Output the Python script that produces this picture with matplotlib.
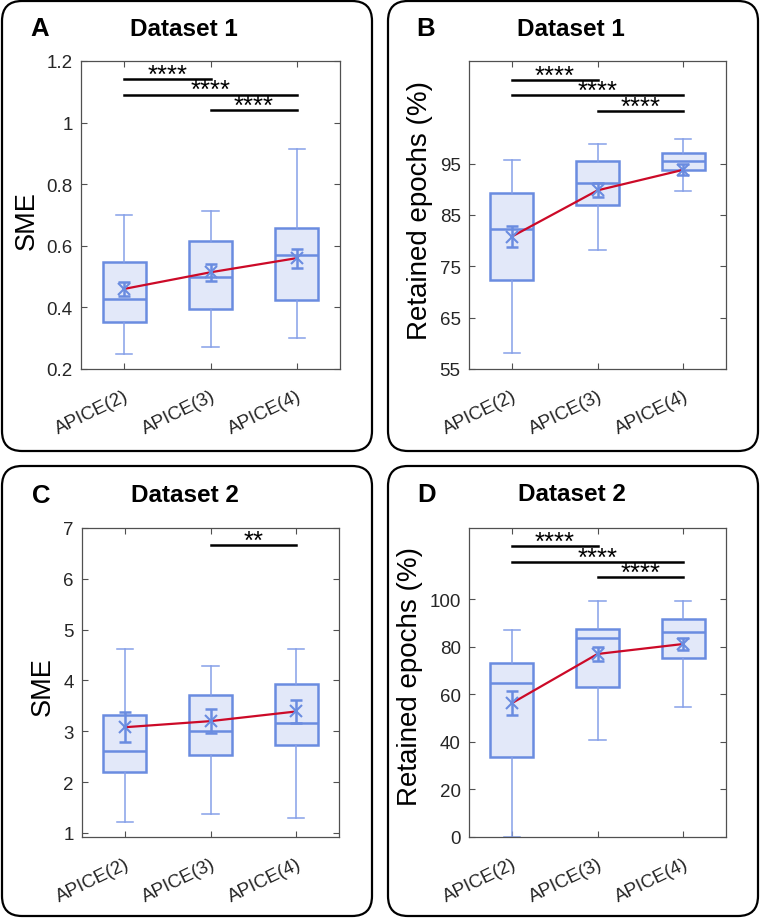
import matplotlib
matplotlib.use('Agg')
import matplotlib.pyplot as plt
from matplotlib.patches import FancyBboxPatch

plt.rcParams['font.family'] = ['Liberation Sans', 'DejaVu Sans']

labels = ['APICE(2)', 'APICE(3)', 'APICE(4)']

# Panel A - Dataset 1, SME
a_whislo = [0.25, 0.27, 0.30]
a_q1     = [0.353, 0.395, 0.425]
a_med    = [0.427, 0.50, 0.571]
a_q3     = [0.548, 0.615, 0.657]
a_whishi = [0.70, 0.712, 0.914]
a_mean   = [0.46, 0.514, 0.56]
a_sem    = [0.024, 0.028, 0.031]
a_sig    = [((1, 2), 1.142, '****'), ((1, 3), 1.091, '****'), ((2, 3), 1.041, '****')]

# Panel B - Dataset 1, retained epochs
b_whislo = [58.2, 78.1, 89.7]
b_q1     = [72.3, 86.9, 93.8]
b_med    = [82.3, 91.3, 95.5]
b_q3     = [89.2, 95.5, 97.1]
b_whishi = [95.7, 98.9, 99.9]
b_mean   = [80.8, 89.8, 93.8]
b_sem    = [2.1, 1.35, 1.05]
b_sig    = [((1, 2), 111.3, '****'), ((1, 3), 108.3, '****'), ((2, 3), 105.3, '****')]

# Panel C - Dataset 2, SME
c_whislo = [1.22, 1.38, 1.29]
c_q1     = [2.20, 2.53, 2.73]
c_med    = [2.62, 3.0, 3.16]
c_q3     = [3.33, 3.72, 3.93]
c_whishi = [4.62, 4.28, 4.61]
c_mean   = [3.08, 3.2, 3.39]
c_sem    = [0.30, 0.23, 0.23]
c_sig    = [((2, 3), 6.66, '**')]

# Panel D - Dataset 2, retained epochs
d_whislo = [0.0, 40.6, 54.5]
d_q1     = [33.8, 62.9, 75.1]
d_med    = [64.6, 83.6, 86.1]
d_q3     = [73.4, 87.4, 91.6]
d_whishi = [87.1, 99.2, 99.2]
d_mean   = [56.3, 77.0, 81.2]
d_sem    = [5.0, 3.0, 2.7]
d_sig    = [((1, 2), 122.3, '****'), ((1, 3), 115.8, '****'), ((2, 3), 109.2, '****')]

EDGE = '#6a8ce0'
WHISK = '#86a0e8'
FILL = '#e2e8f9'
RED = '#cc0a28'
AXC = '#505050'
TXT = '#262626'

W, H = 760, 920
fig = plt.figure(figsize=(W / 100, H / 100), dpi=100)


def px_ax(x0, x1, y0, y1):
    return [x0 / W, 1 - y1 / H, (x1 - x0) / W, (y1 - y0) / H]


def panel(rect, whislo, q1, med, q3, whishi, mean, sem, sig, ylim, yticks):
    ax = fig.add_axes(rect)
    stats = []
    for i in range(3):
        stats.append(dict(whislo=whislo[i], q1=q1[i], med=med[i], q3=q3[i],
                          whishi=whishi[i], fliers=[]))
    ax.bxp(stats, positions=[1, 2, 3], widths=0.5, capwidths=0.19,
           patch_artist=True, showfliers=False,
           boxprops=dict(facecolor=FILL, edgecolor=EDGE, linewidth=1.8),
           medianprops=dict(color=EDGE, linewidth=1.8),
           whiskerprops=dict(color=WHISK, linewidth=1.1),
           capprops=dict(color=WHISK, linewidth=1.1))
    ax.errorbar([1, 2, 3], mean, yerr=sem, fmt='none', ecolor=EDGE,
                elinewidth=1.8, capsize=4, capthick=1.8, zorder=4)
    ax.plot([1, 2, 3], mean, color=RED, linewidth=1.6, zorder=5)
    ax.plot([1, 2, 3], mean, 'x', color=EDGE, markersize=8,
            markeredgewidth=1.5, zorder=6)
    for (i, j), y, s in sig:
        ax.plot([i, j], [y, y], color='black', linewidth=1.8, clip_on=False)
        ax.annotate(s, xy=((i + j) / 2, y), xytext=(0, -2.0),
                    textcoords='offset points', ha='center', va='baseline',
                    fontsize=18.5, color='black')
    ax.set_xlim(0.5, 3.5)
    ax.set_ylim(*ylim)
    ax.set_yticks(yticks)
    ax.set_xticks([1, 2, 3])
    ax.set_xticklabels(labels, rotation=26, ha='right', va='top',
                       rotation_mode='anchor')
    ax.tick_params(direction='in', top=True, right=True, length=4,
                   width=0.8, color=AXC, labelsize=13.5, labelcolor=TXT,
                   pad=6)
    ax.tick_params(axis='x', pad=13)
    for sp in ax.spines.values():
        sp.set_color(AXC)
        sp.set_linewidth(0.9)
    return ax


axA = panel(px_ax(81, 340, 62, 370), a_whislo, a_q1, a_med, a_q3, a_whishi,
            a_mean, a_sem, a_sig, (0.2, 1.2), [0.2, 0.4, 0.6, 0.8, 1.0, 1.2])
axA.set_yticklabels(['0.2', '0.4', '0.6', '0.8', '1', '1.2'])
axB = panel(px_ax(469, 726, 62, 370), b_whislo, b_q1, b_med, b_q3, b_whishi,
            b_mean, b_sem, b_sig, (55, 115), [55, 65, 75, 85, 95])
axC = panel(px_ax(82, 339, 529, 838), c_whislo, c_q1, c_med, c_q3, c_whishi,
            c_mean, c_sem, c_sig, (0.92, 7), [1, 2, 3, 4, 5, 6, 7])
axD = panel(px_ax(469, 726, 529, 838), d_whislo, d_q1, d_med, d_q3, d_whishi,
            d_mean, d_sem, d_sig, (0, 130), [0, 20, 40, 60, 80, 100])


def ftext(x, y, s, **kw):
    return fig.text(x / W, 1 - y / H, s, **kw)


# y labels
ftext(27, 221, 'SME', rotation=90, ha='center', va='center', fontsize=19.5, color='black')
ftext(420, 211, 'Retained epochs (%)', rotation=90, ha='center', va='center', fontsize=20, color='black')
ftext(43, 687, 'SME', rotation=90, ha='center', va='center', fontsize=19.5, color='black')
ftext(410, 677, 'Retained epochs (%)', rotation=90, ha='center', va='center', fontsize=20, color='black')

# panel letters and titles
for x, y, s in [(40, 29, 'A'), (426, 29, 'B'), (41, 496, 'C'), (427, 495, 'D')]:
    ftext(x, y, s, ha='center', va='center', fontsize=18.5, fontweight='bold')
for x, y, s in [(184, 29, 'Dataset 1'), (571, 29, 'Dataset 1'),
                (185, 496, 'Dataset 2'), (572, 495, 'Dataset 2')]:
    ftext(x, y, s, ha='center', va='center', fontsize=17.5, fontweight='bold')

# rounded panel frames (inches)
for x0, y0, x1, y1 in [(2, 2, 372, 452), (388, 2, 758, 452),
                       (2, 467, 372, 917), (388, 467, 758, 917)]:
    frame = FancyBboxPatch((x0 / 100, (H - y1) / 100), (x1 - x0) / 100, (y1 - y0) / 100,
                           boxstyle='round,pad=0,rounding_size=0.2',
                           transform=fig.dpi_scale_trans, facecolor='none',
                           edgecolor='black', linewidth=1.6)
    fig.add_artist(frame)

fig.savefig('out.png', dpi=100)
